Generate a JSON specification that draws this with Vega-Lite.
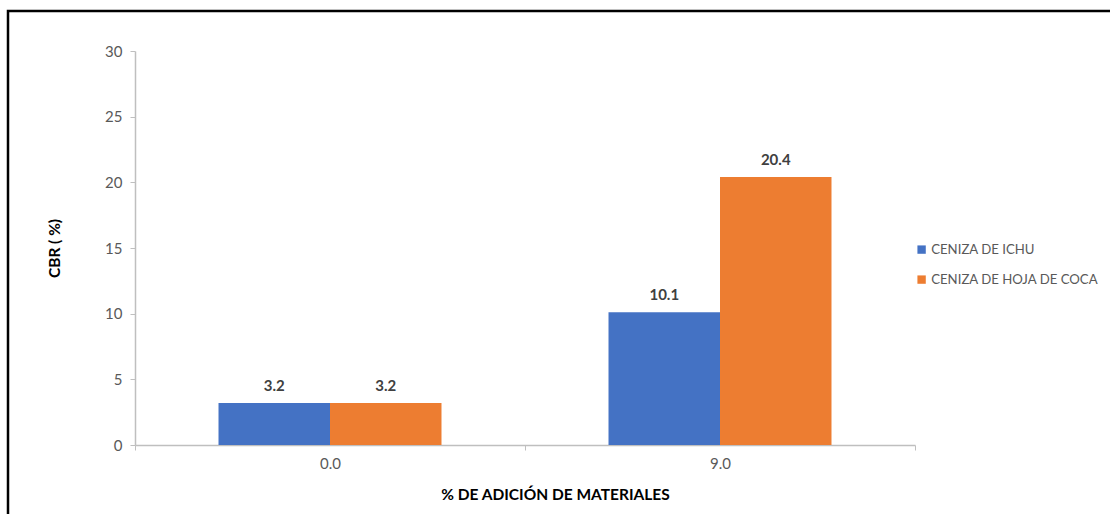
{
  "$schema": "https://vega.github.io/schema/vega-lite/v6.json",
  "width": 1106,
  "height": 507,
  "autosize": {"type": "none"},
  "padding": {"left": 8, "top": 11, "right": 0, "bottom": 0},
  "background": "white",
  "config": {
    "font": "Lato",
    "view": {"stroke": "#000000", "strokeWidth": 2.5},
    "axis": {"grid": false}
  },
  "data": {
    "values": [
      {"adicion": "0.0", "material": "CENIZA DE ICHU", "cbr": 3.2},
      {"adicion": "0.0", "material": "CENIZA DE HOJA DE COCA", "cbr": 3.2},
      {"adicion": "9.0", "material": "CENIZA DE ICHU", "cbr": 10.1},
      {"adicion": "9.0", "material": "CENIZA DE HOJA DE COCA", "cbr": 20.4}
    ]
  },
  "encoding": {
    "x": {
      "field": "adicion",
      "type": "nominal",
      "scale": {"range": [127, 907], "paddingInner": 0, "paddingOuter": 0},
      "axis": {
        "offset": -73,
        "title": "% DE ADICIÓN DE MATERIALES",
        "titleFontSize": 15.5,
        "titleFontWeight": "bold",
        "titleColor": "#000000",
        "titlePadding": 16,
        "titleX": 547,
        "labelAngle": 0,
        "labelFontSize": 15,
        "labelColor": "#595959",
        "labelPadding": 6,
        "tickBand": "extent",
        "tickSize": 5,
        "tickColor": "#bfbfbf",
        "domainColor": "#bfbfbf",
        "domainWidth": 1.5
      }
    },
    "xOffset": {
      "field": "material",
      "type": "nominal",
      "sort": ["CENIZA DE ICHU", "CENIZA DE HOJA DE COCA"],
      "scale": {"paddingInner": 0, "paddingOuter": 0.749}
    },
    "y": {
      "field": "cbr",
      "type": "quantitative",
      "scale": {"domain": [0, 30], "range": [434, 40], "nice": false},
      "axis": {
        "offset": -127,
        "title": "CBR ( %)",
        "titleFontSize": 15.5,
        "titleFontWeight": "bold",
        "titleColor": "#000000",
        "titlePadding": 42,
        "values": [0, 5, 10, 15, 20, 25, 30],
        "labelFontSize": 15,
        "labelColor": "#595959",
        "labelPadding": 8,
        "tickSize": 5,
        "tickColor": "#bfbfbf",
        "domainColor": "#bfbfbf",
        "domainWidth": 1.5
      }
    }
  },
  "layer": [
    {
      "mark": {"type": "bar"},
      "encoding": {
        "color": {
          "field": "material",
          "type": "nominal",
          "sort": ["CENIZA DE ICHU", "CENIZA DE HOJA DE COCA"],
          "scale": {"domain": ["CENIZA DE ICHU", "CENIZA DE HOJA DE COCA"], "range": ["#4472C4", "#ED7D31"]},
          "legend": {
            "title": null,
            "orient": "none",
            "legendX": 907,
            "legendY": 232,
            "symbolType": "square",
            "symbolSize": 70,
            "symbolStrokeWidth": 0,
            "labelFontSize": 13.2,
            "labelColor": "#595959",
            "labelOffset": 3,
            "labelLimit": 400,
            "rowPadding": 16
          }
        }
      }
    },
    {
      "mark": {"type": "text", "baseline": "bottom", "dy": -9, "fontWeight": "bold", "fontSize": 15, "color": "#404040"},
      "encoding": {
        "text": {"field": "cbr", "type": "quantitative", "format": ".1f"}
      }
    }
  ]
}
